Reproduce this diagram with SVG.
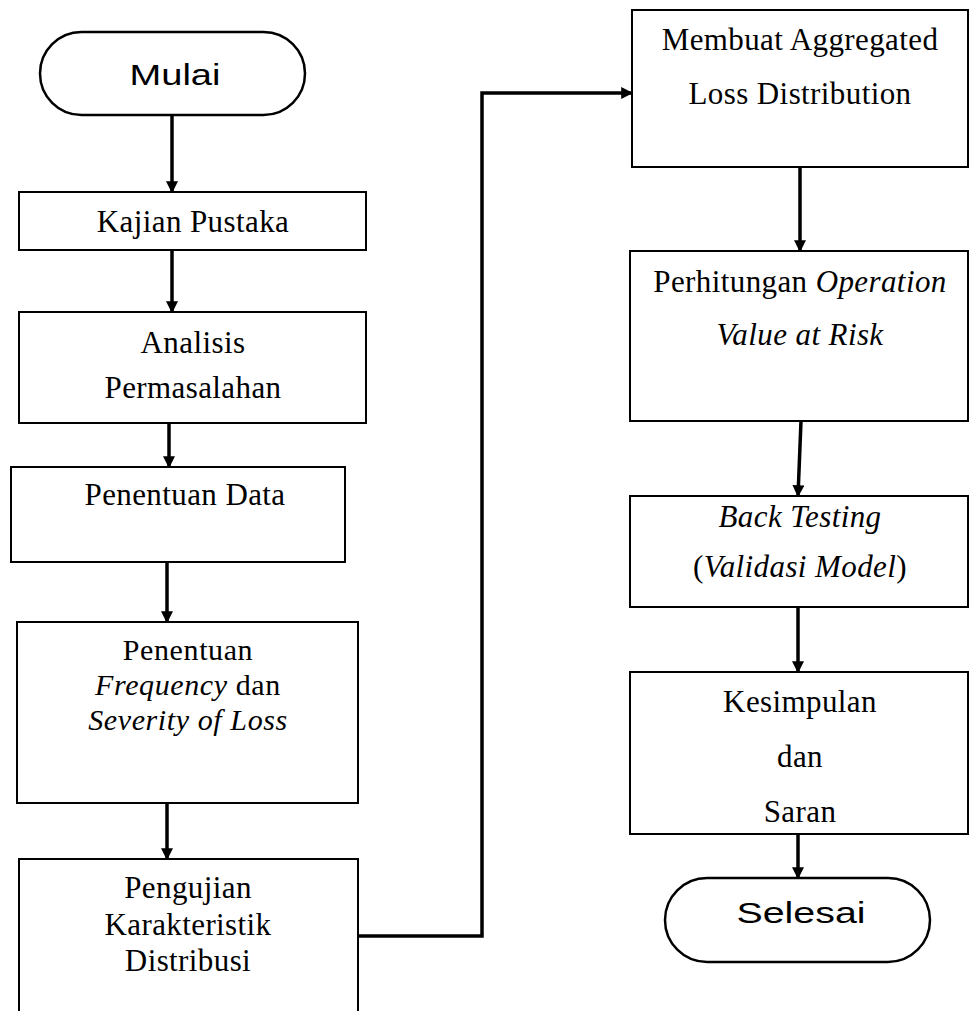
<svg xmlns="http://www.w3.org/2000/svg" width="970" height="1011" viewBox="0 0 970 1011">
<defs>
<marker id="arr" markerWidth="12" markerHeight="12" refX="9" refY="5" orient="auto" markerUnits="userSpaceOnUse" viewBox="0 0 10 10">
<path d="M0,0 L10,5 L0,10 Z" fill="#000"/>
</marker>
<style>
.box{fill:#fff;stroke:#000;stroke-width:2}
.term{fill:#fff;stroke:#000;stroke-width:2.5}
.t{font-family:"Liberation Serif","Times New Roman",serif;font-size:31px;letter-spacing:0.4px;text-anchor:middle;fill:#000}
.tc{font-size:30px;letter-spacing:0.6px}
.s{font-family:"Liberation Sans",Arial,sans-serif;font-size:29px;text-anchor:middle;fill:#000}
.i{font-style:italic}
.c{fill:none;stroke:#000;stroke-width:3.5;marker-end:url(#arr)}
</style>
</defs>
<rect width="970" height="1011" fill="#fff"/>
<g id="connectors">
<line class="c" x1="172" y1="115" x2="172" y2="192"/>
<line class="c" x1="172" y1="250" x2="172" y2="312"/>
<line class="c" x1="169" y1="423" x2="169" y2="467"/>
<line class="c" x1="167" y1="562" x2="167" y2="622"/>
<line class="c" x1="167" y1="803" x2="167" y2="859"/>
<polyline class="c" points="358,936 482,936 482,93 632,93"/>
<line class="c" x1="800" y1="167" x2="800" y2="251"/>
<line class="c" x1="801" y1="421" x2="798" y2="496"/>
<line class="c" x1="798" y1="607" x2="798" y2="672"/>
<line class="c" x1="798" y1="834" x2="798" y2="878"/>
</g>
<g id="mulai">
<rect class="term" x="40" y="32" width="265" height="83" rx="41.5" ry="41.5"/>
<text class="s" x="175" y="85" textLength="91" lengthAdjust="spacingAndGlyphs">Mulai</text>
</g>
<g id="kajian">
<rect class="box" x="19" y="192" width="347" height="58"/>
<text class="t" x="193" y="232">Kajian Pustaka</text>
</g>
<g id="analisis">
<rect class="box" x="19" y="312" width="347" height="111"/>
<text class="t" x="193" y="353">Analisis</text>
<text class="t" x="193" y="398">Permasalahan</text>
</g>
<g id="penentuan-data">
<rect class="box" x="11" y="467" width="334" height="95"/>
<text class="t" x="185" y="505">Penentuan Data</text>
</g>
<g id="penentuan-frequency">
<rect class="box" x="17" y="622" width="341" height="181"/>
<text class="t tc" x="188" y="660">Penentuan</text>
<text class="t tc" x="188" y="695"><tspan class="i">Frequency</tspan> dan</text>
<text class="t tc" x="188" y="730"><tspan class="i">Severity of Loss</tspan></text>
</g>
<g id="pengujian">
<rect class="box" x="19" y="859" width="339" height="170"/>
<text class="t" x="188" y="898">Pengujian</text>
<text class="t" x="188" y="935">Karakteristik</text>
<text class="t" x="188" y="971">Distribusi</text>
</g>
<g id="membuat">
<rect class="box" x="632" y="10" width="336" height="157"/>
<text class="t" x="800" y="50">Membuat Aggregated</text>
<text class="t" x="800" y="104">Loss Distribution</text>
</g>
<g id="perhitungan">
<rect class="box" x="630" y="251" width="338" height="170"/>
<text class="t" x="800" y="292">Perhitungan <tspan class="i">Operation</tspan></text>
<text class="t i" x="800" y="345">Value at Risk</text>
</g>
<g id="backtesting">
<rect class="box" x="630" y="496" width="338" height="111"/>
<text class="t i" x="800" y="527">Back Testing</text>
<text class="t" x="800" y="577">(<tspan class="i">Validasi Model</tspan>)</text>
</g>
<g id="kesimpulan">
<rect class="box" x="630" y="672" width="338" height="162"/>
<text class="t" x="800" y="712">Kesimpulan</text>
<text class="t" x="800" y="767">dan</text>
<text class="t" x="800" y="822">Saran</text>
</g>
<g id="selesai">
<rect class="term" x="665" y="878" width="265" height="84" rx="42" ry="42"/>
<text class="s" x="801" y="923" textLength="129" lengthAdjust="spacingAndGlyphs">Selesai</text>
</g>
</svg>
